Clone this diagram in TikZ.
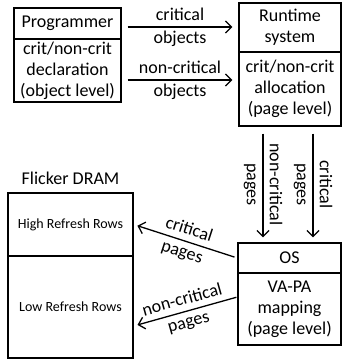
\documentclass[tikz,border=0pt]{standalone}
\usepackage{fontspec}
\setmainfont{Carlito}
\usetikzlibrary{arrows.meta,positioning,calc}
\tikzset{
	box/.style={draw, line width=1.3pt, inner sep=0pt, align=center,
		font=\fontsize{18}{21}\selectfont},
	small/.style={font=\fontsize{14}{16}\selectfont},
	lbl/.style={align=center, font=\fontsize{18}{23}\selectfont, inner sep=1pt},
	arr/.style={line width=1.3pt, -{Straight Barb[length=6pt,width=12pt]}},
}
\begin{document}
\begin{tikzpicture}[x=1pt, y=-1pt]
				\useasboundingbox (0,0) rectangle (343,362);
				\node[box, minimum width=107pt, minimum height=31pt] at (67.5,23.5) (progA) {Programmer};
				\node[box, minimum width=107pt, minimum height=63pt] at (67.5,70.5) (progB) {crit/non-crit\\declaration\\(object level)};
				\node[box, minimum width=102pt, minimum height=49pt] at (290,27.5) (rtA) {Runtime\\system};
				\node[box, minimum width=102pt, minimum height=74pt] at (290,89) (rtB) {crit/non-crit\\allocation\\(page level)};
				\node[box, minimum width=103pt, minimum height=30pt] at (289.5,258) (osA) {OS};
				\node[box, minimum width=103pt, minimum height=72pt] at (289.5,309) (osB) {VA-PA\\mapping\\(page level)};
				\node[box, small, minimum width=125pt, minimum height=63pt] at (70.5,224.5) (dramA) {High Refresh Rows};
				\node[box, small, minimum width=125pt, minimum height=102pt] at (70.5,307) (dramB) {Low Refresh Rows};
				\node[lbl] at (70.5,178) (dram) {Flicker DRAM};
				% programmer to runtime
				\draw[arr, shorten <=6pt, shorten >=6pt] (progA.east |- 0,27) -- node[lbl] {critical\\objects} (rtA.west |- 0,27);
				\draw[arr, shorten <=6pt, shorten >=6pt] (progB.east |- 0,80) -- node[lbl] {non-critical\\objects} (rtB.west |- 0,80);
				% runtime to OS
				\draw[arr, shorten <=7pt, shorten >=5pt] (rtB.south -| 263,0) -- node[lbl, rotate=-90] {non-critical\\pages} (osA.north -| 263,0);
				\draw[arr, shorten <=7pt, shorten >=5pt] (rtB.south -| 313,0) -- node[lbl, rotate=-90] {critical\\pages} (osA.north -| 313,0);
				% OS to DRAM
				\draw[arr, shorten <=3pt, shorten >=4pt] (osA.west) -- node[lbl, sloped] {critical\\pages} (dramA.east);
				\draw[arr, shorten <=1pt, shorten >=4pt] ([yshift=12pt]osB.west) -- node[lbl, sloped] {non-critical\\pages} ([yshift=-19pt]dramB.east);
\end{tikzpicture}
\end{document}
